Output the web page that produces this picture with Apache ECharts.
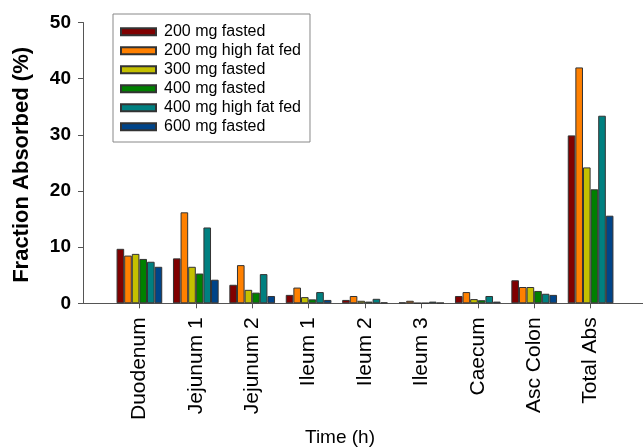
<!DOCTYPE html>
<html>
<head>
<meta charset="utf-8">
<script src="https://cdn.jsdelivr.net/npm/echarts@6/dist/echarts.min.js"></script>
<style>html,body{margin:0;padding:0;background:#fff}#c{width:643px;height:448px}</style>
</head>
<body>
<div id="c"></div>
<script>
const categories = ['', 'Duodenum', 'Jejunum 1', 'Jejunum 2', 'Ileum 1', 'Ileum 2', 'Ileum 3', 'Caecum', 'Asc Colon', 'Total Abs', ''];
const seriesNames = ['200 mg fasted', '200 mg high fat fed', '300 mg fasted', '400 mg fasted', '400 mg high fat fed', '600 mg fasted'];
const s200fasted = [null, 9.7, 8.0, 3.3, 1.5, 0.6, 0.15, 1.3, 4.1, 29.9, null];
const s200hff    = [null, 8.5, 16.2, 6.8, 2.8, 1.3, 0.45, 2.0, 2.9, 42.0, null];
const s300fasted = [null, 8.8, 6.5, 2.4, 1.1, 0.45, 0.05, 0.75, 2.9, 24.2, null];
const s400fasted = [null, 7.9, 5.3, 1.9, 0.7, 0.3, 0.05, 0.55, 2.2, 20.3, null];
const s400hff    = [null, 7.4, 13.5, 5.2, 2.0, 0.8, 0.3, 1.3, 1.7, 33.4, null];
const s600fasted = [null, 6.5, 4.2, 1.3, 0.6, 0.15, 0.1, 0.3, 1.5, 15.6, null];
const yTicks = [0, 10, 20, 30, 40, 50];

const values = [s200fasted, s200hff, s300fasted, s400fasted, s400hff, s600fasted];
const colors = ['#800000', '#ff8000', '#c4c000', '#008000', '#008080', '#004488'];
const font = 'Liberation Sans, Arial, sans-serif';

const chart = echarts.init(document.getElementById('c'));
chart.setOption({
  animation: false,
  textStyle: { fontFamily: font },
  grid: { left: 83, right: -4, top: 22.5, bottom: 144.7, containLabel: false, outerBoundsMode: 'none' },
  legend: {
    orient: 'vertical', left: 113, top: 14,
    padding: [9.7, 9, 7.3, 7],
    icon: 'rect',
    itemWidth: 35, itemHeight: 7, itemGap: 3,
    borderColor: '#888', borderWidth: 1,
    textStyle: { fontSize: 16, color: '#000', fontFamily: font, lineHeight: 16, padding: [0, 0, 0, 3] },
    data: seriesNames
  },
  xAxis: {
    type: 'category', data: categories, boundaryGap: false,
    axisLine: { lineStyle: { color: '#555', width: 1 } },
    axisTick: { length: 5, interval: (i) => i > 0 && i < categories.length - 1, lineStyle: { color: '#555' } },
    axisLabel: { interval: 0, rotate: 90, fontSize: 21, color: '#000', margin: 14, fontFamily: font },
    name: 'Time (h)', nameLocation: 'middle', nameGap: 125,
    nameTextStyle: { fontSize: 19, color: '#000', fontFamily: font, padding: [0, 50, 0, 0] }
  },
  yAxis: {
    type: 'value', min: yTicks[0], max: yTicks[yTicks.length - 1], interval: 10,
    splitLine: { show: false },
    axisLine: { show: true, lineStyle: { color: '#555', width: 1 } },
    axisTick: { show: true, length: 5, lineStyle: { color: '#555' } },
    axisLabel: { fontSize: 19, fontWeight: 'bold', color: '#000', margin: 12, fontFamily: font },
    name: 'Fraction Absorbed (%)', nameLocation: 'middle', nameGap: 50, nameRotate: 90,
    nameTextStyle: { fontSize: 22, fontWeight: 'bold', color: '#000', fontFamily: font, padding: [0, 4, 0, 0] }
  },
  series: seriesNames.map((n, i) => ({
    name: n, type: 'bar', data: values[i],
    barGap: '0%', barCategoryGap: '19%',
    itemStyle: { color: colors[i], borderColor: '#333', borderWidth: 1 }
  }))
});
</script>
</body>
</html>
